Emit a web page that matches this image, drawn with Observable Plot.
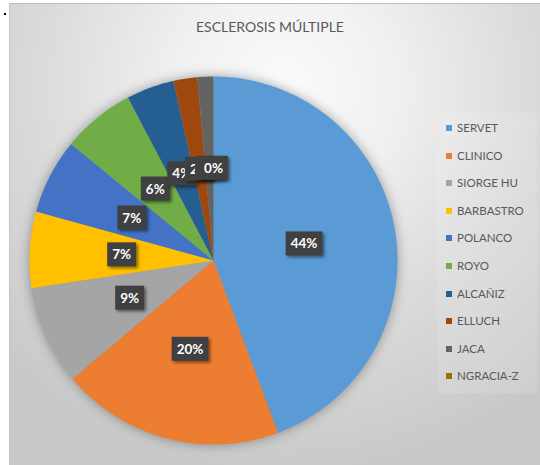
<!DOCTYPE html>
<html><head><meta charset="utf-8">
<script src="https://cdn.jsdelivr.net/npm/d3@7"></script>
<script src="https://cdn.jsdelivr.net/npm/@observablehq/plot@0.6"></script>
<style>
html,body{margin:0;padding:0;background:#fff;}
#wrap{position:relative;width:540px;height:465px;overflow:hidden;background:#fff;}
#frame{position:absolute;left:9px;top:3px;width:531px;height:462px;
  border-top:1.5px solid #bdbdbd;border-left:1px solid #c4c4c4;box-sizing:border-box;
  background:radial-gradient(ellipse 75% 85% at 52% 18%, #fbfbfb 0%, #f0f0f0 28%, #dcdcdc 60%, #c8c8c8 100%);}
#dot{position:absolute;left:4px;top:13px;width:2px;height:2px;background:#000;}
#title{position:absolute;left:0;width:540px;top:18px;text-align:center;font-family:Lato,sans-serif;font-size:14px;color:#595959;}
#chart{position:absolute;left:0;top:0;}
#legend{position:absolute;left:437px;top:113px;width:100px;height:280px;background:rgba(255,255,255,0.12);
  font-family:Lato,sans-serif;font-size:11.5px;color:#595959;}
.item{position:absolute;left:9px;height:14px;line-height:14px;white-space:nowrap;}
.sw{display:inline-block;width:6px;height:6px;margin-right:5px;vertical-align:1px;}
</style></head>
<body>
<div id="wrap">
  <div id="frame"></div>
  <div id="dot"></div>
  <div id="chart"></div>
  <div id="title">ESCLEROSIS MÚLTIPLE</div>
  <div id="legend"></div>
</div>
<script>
const hospitals = ["SERVET","CLINICO","SIORGE HU","BARBASTRO","POLANCO","ROYO","ALCAÑIZ","ELLUCH","JACA","NGRACIA-Z"];
const shares = [44.3, 19.6, 8.7, 6.7, 6.6, 6.4, 4.2, 2.1, 1.4, 0];
const colors = ["#5B9BD5","#ED7D31","#A5A5A5","#FFC000","#4472C4","#70AD47","#255E91","#9E480E","#636363","#997300"];

const total = d3.sum(shares);
const arcs = d3.pie().sort(null).value(d => d)(shares);

// slice polygons in unit coordinates (angle clockwise from top)
const slicePts = [];
arcs.forEach((a, i) => {
  const n = Math.max(2, Math.ceil((a.endAngle - a.startAngle) / 0.01));
  slicePts.push({name: hospitals[i], px: 0, py: 0});
  for (let k = 0; k <= n; k++) {
    const t = a.startAngle + (a.endAngle - a.startAngle) * k / n;
    slicePts.push({name: hospitals[i], px: Math.sin(t), py: Math.cos(t)});
  }
});
const labels = arcs.map((a, i) => {
  const m = (a.startAngle + a.endAngle) / 2;
  return {name: hospitals[i], px: 0.5 * Math.sin(m), py: 0.5 * Math.cos(m),
          text: Math.round(shares[i] / total * 100) + "%"};
});

const chart = Plot.plot({
  width: 540, height: 465,
  margin: 0,
  style: {background: "transparent", overflow: "visible"},
  x: {domain: [-1, 1], range: [29, 397], axis: null},
  y: {domain: [-1, 1], range: [444, 76], axis: null},
  color: {domain: hospitals, range: colors},
  marks: [
    Plot.line(slicePts, {x: "px", y: "py", z: "name", fill: "name", stroke: "none", curve: "linear-closed"}),
    Plot.text(labels, {x: "px", y: "py", text: "text", fill: "white", fontWeight: "bold",
      fontSize: 13.5, fontFamily: "Lato, sans-serif"})
  ]
});
document.getElementById("chart").appendChild(chart);

// soft halo around pie
const pieG = chart.querySelector('g[aria-label="line"]');
if (pieG) pieG.style.filter = "drop-shadow(0px 0px 6px rgba(0,0,0,0.35))";

// dark label boxes behind text
const textG = chart.querySelector('g[aria-label="text"]');
if (textG) {
  const texts = Array.from(textG.querySelectorAll("text"));
  texts.forEach(t => {
    const b = t.getBBox();
    const r = document.createElementNS("http://www.w3.org/2000/svg", "rect");
    r.setAttribute("x", b.x - 5);
    r.setAttribute("y", b.y - 4);
    r.setAttribute("width", b.width + 10);
    r.setAttribute("height", b.height + 8);
    r.setAttribute("fill", "#404040");
    r.setAttribute("transform", t.getAttribute("transform") || "");
    r.style.filter = "drop-shadow(2px 2px 1.5px rgba(0,0,0,0.45))";
    textG.insertBefore(r, t);
  });
}

// legend
const leg = document.getElementById("legend");
hospitals.forEach((h, i) => {
  const d = document.createElement("div");
  d.className = "item";
  d.style.top = (8 + i * 27.6) + "px";
  d.innerHTML = `<span class="sw" style="background:${colors[i]}"></span>${h}`;
  leg.appendChild(d);
});
</script>
</body></html>
